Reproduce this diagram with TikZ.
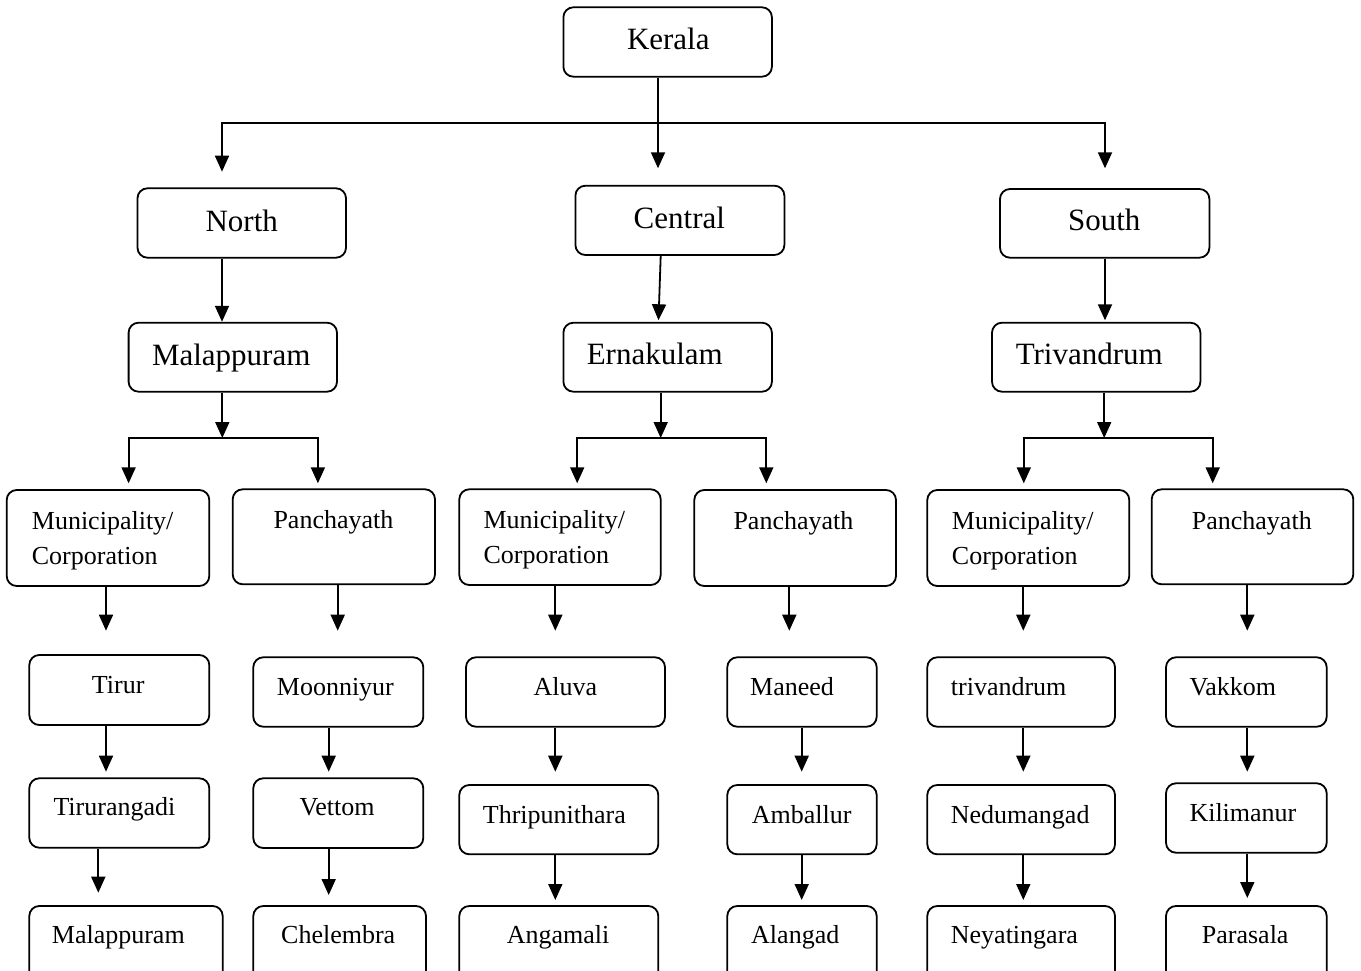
\documentclass[tikz,border=0pt]{standalone}
\usepackage{fontspec}
\setmainfont{Liberation Serif}
\usetikzlibrary{arrows.meta,fit}
\begin{document}
\begin{tikzpicture}[x=1pt,y=-1pt,
  box/.style={draw, line width=1.8pt, rounded corners=10pt, inner sep=0pt},
  big/.style={font=\fontsize{31}{37}\selectfont, inner sep=0pt, anchor=base west},
  sml/.style={font=\fontsize{26}{35}\selectfont, inner sep=0pt, anchor=base west, align=left},
  tip/.tip={Triangle[width=14pt,length=16pt]},
  arr/.style={line width=1.8pt, -tip},
  dbl/.style={line width=1.8pt, tip-tip},
  ln/.style={line width=1.8pt}]
\clip (0,0) rectangle (1361,971);
% ---------- boxes ----------
\node[box, fit={(563.4,7.3)(771.9,76.7)}] (kerala) {};
\node[box, fit={(137.5,188.3)(346,257.7)}] (north) {};
\node[box, fit={(575.4,185.7)(784.4,255)}] (central) {};
\node[box, fit={(1000,189)(1209.4,257.7)}] (south) {};
\node[box, fit={(128.6,322.7)(337,391.7)}] (malR) {};
\node[box, fit={(563.4,322.7)(771.9,391.7)}] (ern) {};
\node[box, fit={(992,322.7)(1200.4,391.7)}] (triv) {};
\node[box, fit={(6.7,490)(209.3,586)}] (mcN) {};
\node[box, fit={(232.7,489.3)(435,584.3)}] (pN) {};
\node[box, fit={(459.3,489.3)(660.7,585)}] (mcC) {};
\node[box, fit={(694.3,490)(896,586)}] (pC) {};
\node[box, fit={(927.3,490)(1129.3,586)}] (mcS) {};
\node[box, fit={(1151.7,489.3)(1353.3,584.3)}] (pS) {};
\node[box, fit={(29.3,655)(209.3,725)}] (tirur) {};
\node[box, fit={(253.3,657.3)(423.3,726.7)}] (moon) {};
\node[box, fit={(466,657.3)(665,726.7)}] (aluva) {};
\node[box, fit={(727.3,657.3)(876.7,726.7)}] (maneed) {};
\node[box, fit={(927.3,657.3)(1115,726.7)}] (trivl) {};
\node[box, fit={(1166,657.3)(1326.7,726.7)}] (vakkom) {};
\node[box, fit={(29.3,778.3)(209.3,847.7)}] (tirng) {};
\node[box, fit={(253.3,778.3)(423.3,848)}] (vettom) {};
\node[box, fit={(459.3,785)(658.3,854.3)}] (thrip) {};
\node[box, fit={(727.3,785)(876.7,854.3)}] (amb) {};
\node[box, fit={(927.3,785)(1115,854.3)}] (nedu) {};
\node[box, fit={(1166,783.3)(1326.7,852.7)}] (kili) {};
\node[box, fit={(29.3,906)(222.7,990)}] (malB) {};
\node[box, fit={(253.3,906)(426,990)}] (chel) {};
\node[box, fit={(459.3,906)(658.3,990)}] (anga) {};
\node[box, fit={(727.3,906)(876.7,990)}] (alan) {};
\node[box, fit={(927.3,906)(1115,990)}] (neya) {};
\node[box, fit={(1166,906)(1326.7,990)}] (para) {};
% ---------- texts ----------
\node[big] (t-kerala) at (626.8,50) {Kerala};
\node[big] (t-north) at (205.4,231.7) {North};
\node[big] (t-central) at (633.5,228.3) {Central};
\node[big] (t-south) at (1067.9,230.7) {South};
\node[big] (t-malR) at (151.8,365) {Malappuram};
\node[big] (t-ern) at (586.6,364.3) {Ernakulam};
\node[big] (t-triv) at (1015.6,364.3) {Trivandrum};
\node[sml] (t-mcN) at (31.7,564) {Municipality/\\Corporation};
\node[sml] (t-pN) at (273.3,528) {Panchayath};
\node[sml] (t-mcC) at (483.3,563) {Municipality/\\Corporation};
\node[sml] (t-pC) at (733.3,529) {Panchayath};
\node[sml] (t-mcS) at (951.7,564) {Municipality/\\Corporation};
\node[sml] (t-pS) at (1191.7,529) {Panchayath};
\node[sml] (t-tirur) at (91.7,693) {Tirur};
\node[sml] (t-moon) at (276.7,695) {Moonniyur};
\node[sml] (t-aluva) at (533.3,695) {Aluva};
\node[sml] (t-maneed) at (750,695) {Maneed};
\node[sml] (t-trivl) at (950.7,695) {trivandrum};
\node[sml] (t-vakkom) at (1189.3,695) {Vakkom};
\node[sml] (t-tirng) at (53.3,815) {Tirurangadi};
\node[sml] (t-vettom) at (299.3,815) {Vettom};
\node[sml] (t-thrip) at (482.7,823) {Thripunithara};
\node[sml] (t-amb) at (751.7,823) {Amballur};
\node[sml] (t-nedu) at (950.7,823) {Nedumangad};
\node[sml] (t-kili) at (1189.3,821) {Kilimanur};
\node[sml] (t-malB) at (51.7,943) {Malappuram};
\node[sml] (t-chel) at (281,943) {Chelembra};
\node[sml] (t-anga) at (506.7,943) {Angamali};
\node[sml] (t-alan) at (751,943) {Alangad};
\node[sml] (t-neya) at (950.7,943) {Neyatingara};
\node[sml] (t-para) at (1201.7,943) {Parasala};
% ---------- top level connectors ----------
\coordinate (hC) at (658,122.7);
\coordinate (tC) at (658,168.3);
\coordinate (tN) at (222,171.7);
\coordinate (tS) at (1105,168.3);
\draw[arr] (kerala.south -| tC) -- (tC);
\draw[dbl] (tN) |- (hC) -| (tS);
% ---------- region -> district ----------
\coordinate (xN) at (222,0);
\coordinate (xC1) at (660.7,0);
\coordinate (xC2) at (658.5,0);
\coordinate (xS) at (1105,0);
\draw[arr] (north.south -| xN) -- (malR.north -| xN);
\draw[arr] (central.south -| xC1) -- ([yshift=1.5pt]ern.north -| xC2);
\draw[arr] (south.south -| xS) -- ([yshift=1.5pt]triv.north -| xS);
% ---------- district -> branches ----------
\coordinate (bN) at (222.3,438);
\coordinate (bNL) at (128.6,483.3);
\coordinate (bNR) at (317.9,483.3);
\draw[arr] (malR.south -| bN) -- (bN);
\draw[dbl] (bNL) |- (bN) -| (bNR);
\coordinate (bC) at (660.7,438);
\coordinate (bCL) at (577.2,483.3);
\coordinate (bCR) at (766.3,483.3);
\draw[arr] (ern.south -| bC) -- (bC);
\draw[dbl] (bCL) |- (bC) -| (bCR);
\coordinate (bS) at (1104.2,438);
\coordinate (bSL) at (1023.8,483.3);
\coordinate (bSR) at (1212.7,483.3);
\draw[arr] (triv.south -| bS) -- (bS);
\draw[dbl] (bSL) |- (bS) -| (bSR);
% ---------- row 4 -> row 5 ----------
\coordinate (a1) at (106,630.7);
\coordinate (a2) at (337.7,630.7);
\coordinate (a3) at (555.3,630.7);
\coordinate (a4) at (789.3,630.7);
\coordinate (a5) at (1023.3,630.7);
\coordinate (a6) at (1247.3,630.7);
\draw[arr] (mcN.south -| a1) -- (a1);
\draw[arr] (pN.south -| a2) -- (a2);
\draw[arr] (mcC.south -| a3) -- (a3);
\draw[arr] (pC.south -| a4) -- (a4);
\draw[arr] (mcS.south -| a5) -- (a5);
\draw[arr] (pS.south -| a6) -- (a6);
% ---------- row 5 -> row 6 ----------
\coordinate (b1) at (106,771.7);
\coordinate (b2) at (328.7,771.7);
\coordinate (b3) at (555.3,771.7);
\coordinate (b4) at (801.7,771.7);
\coordinate (b5) at (1023.3,771.7);
\coordinate (b6) at (1247.3,771.7);
\draw[arr] (tirur.south -| b1) -- (b1);
\draw[arr] (moon.south -| b2) -- (b2);
\draw[arr] (aluva.south -| b3) -- (b3);
\draw[arr] (maneed.south -| b4) -- (b4);
\draw[arr] (trivl.south -| b5) -- (b5);
\draw[arr] (vakkom.south -| b6) -- (b6);
% ---------- row 6 -> row 7 ----------
\coordinate (c1) at (98.3,892.7);
\coordinate (c2) at (328.7,895);
\coordinate (c3) at (555.3,900);
\coordinate (c4) at (801.7,900);
\coordinate (c5) at (1023.3,900);
\coordinate (c6) at (1247.3,898);
\draw[arr] (tirng.south -| c1) -- (c1);
\draw[arr] (vettom.south -| c2) -- (c2);
\draw[arr] (thrip.south -| c3) -- (c3);
\draw[arr] (amb.south -| c4) -- (c4);
\draw[arr] (nedu.south -| c5) -- (c5);
\draw[arr] (kili.south -| c6) -- (c6);
\end{tikzpicture}
\end{document}
